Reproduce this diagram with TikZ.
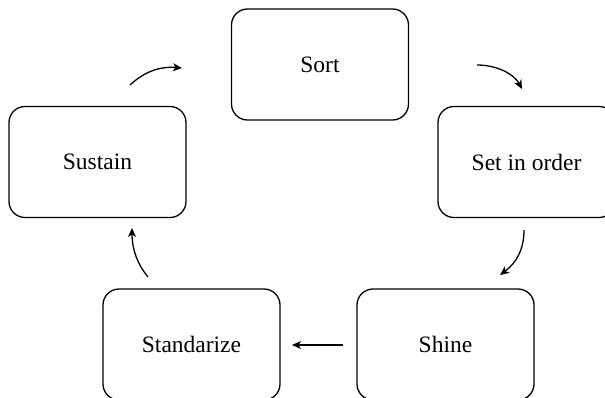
\documentclass[tikz,border=0pt]{standalone}
\usepackage{fontspec}
\setmainfont{Liberation Serif}
\usetikzlibrary{arrows.meta}
\begin{document}
\begin{tikzpicture}[x=1bp,y=-1bp,
  stage/.style={draw, line width=1.3bp, rounded corners=16bp,
    minimum width=177bp, minimum height=111bp, inner sep=0pt,
    font=\fontsize{23.5bp}{28bp}\selectfont},
  flow/.style={line width=1.3bp, -{Stealth[length=9bp,width=8bp,inset=2.5bp]}}]
  \useasboundingbox (0,0) rectangle (605,397);
  \clip (0,0) rectangle (605,397);

  % the five stages
  \node[stage] (sort)  at (320,64.5)   {Sort};
  \node[stage] (set)   at (526.5,162)  {Set in order};
  \node[stage] (shine) at (445.5,344.5) {Shine};
  \node[stage] (std)   at (191.5,344.5) {Standarize};
  \node[stage] (sus)   at (97.5,162)   {Sustain};

  % arrow end points between the stages
  \coordinate (susA)  at (130,85);
  \coordinate (sortB) at (182,68);
  \coordinate (sortA) at (477,65);
  \coordinate (setB)  at (522,89);
  \coordinate (setA)  at (524,230);
  \coordinate (shineB) at (500,275);
  \coordinate (shineA) at (343,345);
  \coordinate (stdB)  at (292,345);
  \coordinate (stdA)  at (148,277);
  \coordinate (susB)  at (132,228);

  \draw[flow] (susA) .. controls (143,73) and (158,66) .. (sortB);
  \draw[flow] (sortA) .. controls (497,65) and (514,74) .. (setB);
  \draw[flow] (setA) .. controls (524,250) and (516,263) .. (shineB);
  \draw[flow] (shineA) -- (stdB);
  \draw[flow] (stdA) .. controls (138,265) and (132,250) .. (susB);
\end{tikzpicture}
\end{document}
